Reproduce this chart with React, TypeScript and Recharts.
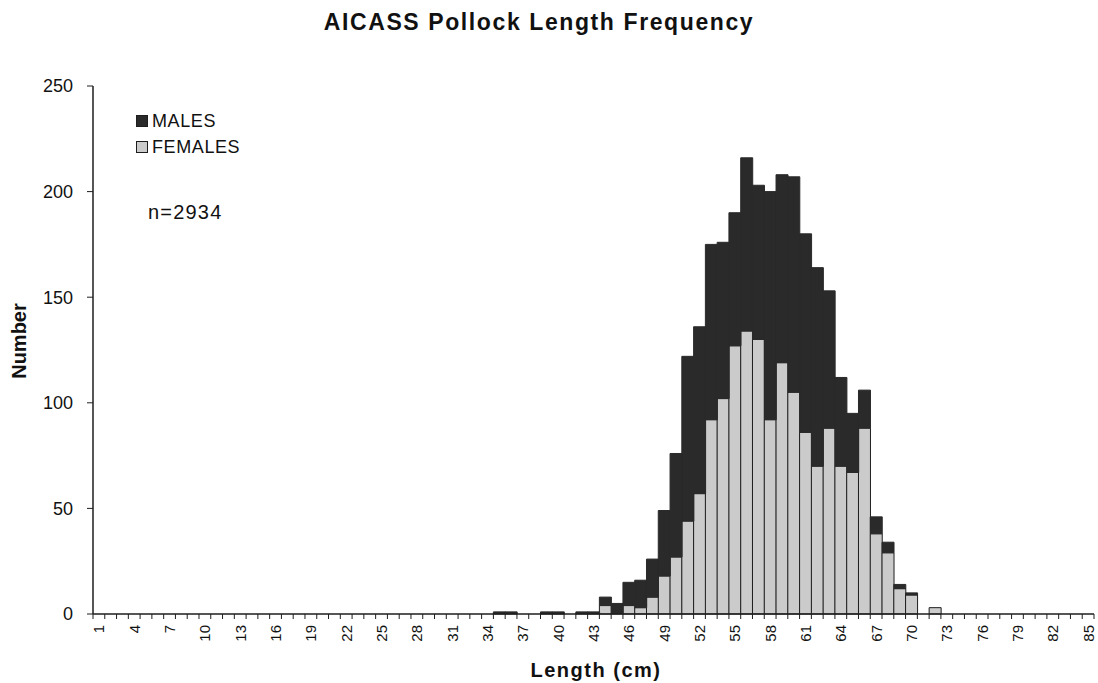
import React from 'react';
import { BarChart, Bar, XAxis, YAxis, Legend } from 'recharts';

// length classes (cm)
const lengths = [
  1, 2, 3, 4, 5, 6, 7, 8, 9, 10, 11, 12, 13, 14, 15, 16, 17, 18, 19, 20,
  21, 22, 23, 24, 25, 26, 27, 28, 29, 30, 31, 32, 33, 34, 35, 36, 37, 38, 39, 40,
  41, 42, 43, 44, 45, 46, 47, 48, 49, 50, 51, 52, 53, 54, 55, 56, 57, 58, 59, 60,
  61, 62, 63, 64, 65, 66, 67, 68, 69, 70, 71, 72, 73, 74, 75, 76, 77, 78, 79, 80,
  81, 82, 83, 84, 85,
];

const males = [
  0, 0, 0, 0, 0, 0, 0, 0, 0, 0, 0, 0, 0, 0, 0, 0, 0, 0, 0, 0,
  0, 0, 0, 0, 0, 0, 0, 0, 0, 0, 0, 0, 0, 0, 1, 1, 0, 0, 1, 1,
  0, 1, 1, 4, 5, 11, 13, 18, 31, 49, 78, 79, 83, 74, 63, 82, 73, 108, 89, 102,
  94, 94, 65, 42, 28, 18, 8, 5, 2, 1, 0, 0, 0, 0, 0, 0, 0, 0, 0, 0,
  0, 0, 0, 0, 0,
];

const females = [
  0, 0, 0, 0, 0, 0, 0, 0, 0, 0, 0, 0, 0, 0, 0, 0, 0, 0, 0, 0,
  0, 0, 0, 0, 0, 0, 0, 0, 0, 0, 0, 0, 0, 0, 0, 0, 0, 0, 0, 0,
  0, 0, 0, 4, 0, 4, 3, 8, 18, 27, 44, 57, 92, 102, 127, 134, 130, 92, 119, 105,
  86, 70, 88, 70, 67, 88, 38, 29, 12, 9, 0, 3, 0, 0, 0, 0, 0, 0, 0, 0,
  0, 0, 0, 0, 0,
];

const xLabels = [1, 4, 7, 10, 13, 16, 19, 22, 25, 28, 31, 34, 37, 40, 43, 46, 49, 52, 55, 58, 61, 64, 67, 70, 73, 76, 79, 82, 85];
const yTicks = [0, 50, 100, 150, 200, 250];

const data = lengths.map((length, i) => ({
  length,
  MALES: males[i],
  FEMALES: females[i],
}));

const INK = '#1e1e1e';
const DARK = '#2a2a2a';
const LIGHT = '#cbcbcb';
const FONT = '"Liberation Sans", Arial, sans-serif';

function LengthTick(props: any) {
  const { x, y, payload, index, visibleTicksCount } = props;
  const half = payload.offset || 0;
  const showLabel = xLabels.includes(payload.value);
  const ty = y + 11;
  return (
    <g>
      <line x1={x - half} x2={x - half} y1={y} y2={y + 5} stroke={INK} strokeWidth={1} />
      {index === visibleTicksCount - 1 && (
        <line x1={x + half} x2={x + half} y1={y} y2={y + 5} stroke={INK} strokeWidth={1} />
      )}
      {showLabel && (
        <text
          x={x}
          y={ty}
          transform={`rotate(-90 ${x} ${ty})`}
          textAnchor="end"
          dominantBaseline="central"
          fontSize={15}
          fontFamily={FONT}
          fill="#111"
        >
          {payload.value}
        </text>
      )}
    </g>
  );
}

function LegendBox(props: any) {
  const items = [...(props.payload || [])].reverse();
  return (
    <div style={{ fontFamily: FONT, fontSize: 18, letterSpacing: 0.6, color: '#111', lineHeight: '26px' }}>
      {items.map((item: any) => (
        <div key={item.value} style={{ display: 'flex', alignItems: 'center' }}>
          <span
            style={{
              display: 'inline-block',
              width: 10,
              height: 10,
              background: item.color,
              border: `1px solid ${INK}`,
              marginRight: 4,
            }}
          />
          {item.value}
        </div>
      ))}
    </div>
  );
}

export default function App() {
  return (
    <div
      style={{
        position: 'absolute',
        left: 0,
        top: 0,
        width: 1098,
        height: 683,
        background: '#fff',
        fontFamily: FONT,
        color: '#111',
      }}
    >
      <div
        style={{
          position: 'absolute',
          left: 0,
          top: 9,
          width: 1078,
          textAlign: 'center',
          fontSize: 23,
          fontWeight: 'bold',
          letterSpacing: 1.6,
        }}
      >
        AICASS Pollock Length Frequency
      </div>

      <BarChart
        width={1098}
        height={683}
        data={data}
        margin={{ top: 86, right: 4, bottom: 19, left: 18 }}
        barCategoryGap={0}
        barGap={0}
      >
        <XAxis
          dataKey="length"
          interval={0}
          height={50}
          tickLine={false}
          tickSize={0}
          tickMargin={0}
          axisLine={{ stroke: INK, strokeWidth: 1.5 }}
          tick={<LengthTick />}
        />
        <YAxis
          width={75}
          domain={[0, 250]}
          ticks={yTicks}
          interval={0}
          tickSize={6}
          tickMargin={14}
          axisLine={{ stroke: INK, strokeWidth: 1.5 }}
          tickLine={{ stroke: INK }}
          tick={{ fill: '#111', fontSize: 18, fontFamily: FONT }}
        />
        <Legend
          layout="vertical"
          align="center"
          verticalAlign="middle"
          wrapperStyle={{ left: 136, top: 108, width: 'auto' }}
          content={<LegendBox />}
        />
        <Bar
          dataKey="FEMALES"
          stackId="n"
          fill={LIGHT}
          stroke={INK}
          strokeWidth={1}
          isAnimationActive={false}
        />
        <Bar
          dataKey="MALES"
          stackId="n"
          fill={DARK}
          stroke={DARK}
          strokeWidth={1}
          isAnimationActive={false}
        />
      </BarChart>

      <div style={{ position: 'absolute', left: 148, top: 201, fontSize: 20, letterSpacing: 1.2 }}>n=2934</div>

      <div
        style={{
          position: 'absolute',
          left: 19,
          top: 341,
          transform: 'translate(-50%, -50%) rotate(-90deg)',
          fontSize: 20,
          fontWeight: 'bold',
          whiteSpace: 'nowrap',
        }}
      >
        Number
      </div>

      <div
        style={{
          position: 'absolute',
          left: 596,
          top: 670,
          transform: 'translate(-50%, -50%)',
          fontSize: 20,
          fontWeight: 'bold',
          letterSpacing: 1.5,
          whiteSpace: 'nowrap',
        }}
      >
        Length (cm)
      </div>
    </div>
  );
}
